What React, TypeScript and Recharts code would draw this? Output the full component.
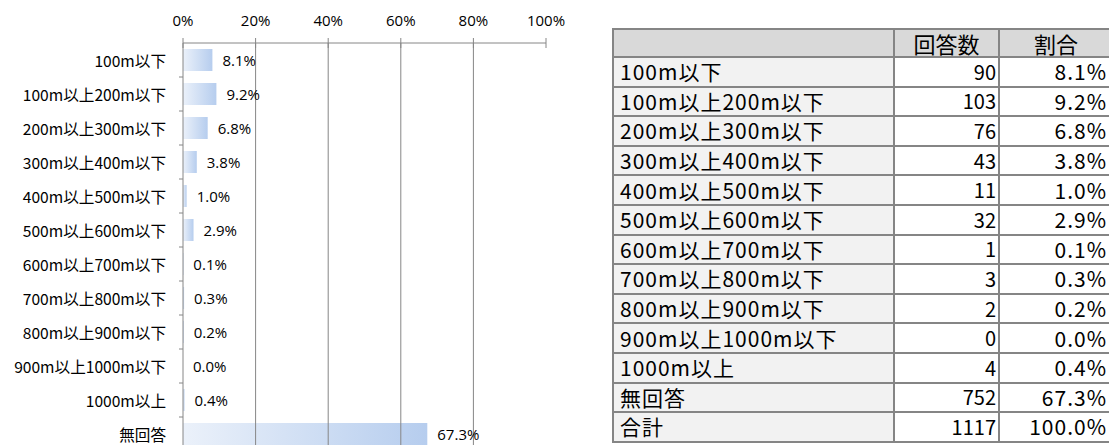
import { BarChart, Bar, XAxis, YAxis, ReferenceLine, LabelList } from 'recharts'

const categories = [
  '100m以下',
  '100m以上200m以下',
  '200m以上300m以下',
  '300m以上400m以下',
  '400m以上500m以下',
  '500m以上600m以下',
  '600m以上700m以下',
  '700m以上800m以下',
  '800m以上900m以下',
  '900m以上1000m以下',
  '1000m以上',
  '無回答',
]
const counts = [90, 103, 76, 43, 11, 32, 1, 3, 2, 0, 4, 752]
const shares = [8.1, 9.2, 6.8, 3.8, 1.0, 2.9, 0.1, 0.3, 0.2, 0.0, 0.4, 67.3]
const totalLabel = '合計'
const totalCount = 1117
const totalShare = 100.0
const tableHeaders = ['', '回答数', '割合']
const xTicks = [0, 20, 40, 60, 80, 100]
const gridValues = [20, 40, 60, 80]

const data = categories.map((name, i) => ({ name, share: shares[i] }))

const AXIS = '#868686'
const ROW = 34
const numFont = '"Open Sans", sans-serif'
const jpFont = '"Noto Sans CJK JP", sans-serif'

function CatTick(props: any) {
  const { x, y, payload } = props
  return (
    <g>
      <text x={x - 9} y={y} textAnchor="end" dominantBaseline="central" fontSize={15.6} fontFamily={jpFont} fill="#000">
        {payload.value}
      </text>
      <line x1={x + 4} x2={x + 8} y1={y + ROW / 2} y2={y + ROW / 2} stroke={AXIS} />
    </g>
  )
}

// top axis tick: label plus a short mark crossing the axis line
function PctTick(props: any) {
  const { x, y, payload } = props
  const axisY = y + 17
  return (
    <g>
      <text x={x} y={y} textAnchor="middle" fontSize={15} fontFamily={numFont} fill="#000">
        {payload.value}%
      </text>
      <line x1={x} x2={x} y1={axisY - 5} y2={axisY + 5} stroke={AXIS} />
    </g>
  )
}

function ShareLabel(props: any) {
  const { x, y, width, height, value } = props
  return (
    <text
      x={Number(x) + Number(width) + 10}
      y={Number(y) + Number(height) / 2}
      dominantBaseline="central"
      fontSize={15}
      fontFamily={numFont}
      fill="#000"
    >
      {Number(value).toFixed(1)}%
    </text>
  )
}

const cell = { border: '2px solid #858585', padding: '0 4px', whiteSpace: 'nowrap' as const }

export default function App() {
  const rows = [
    ...categories.map((c, i) => ({ label: c, count: counts[i], share: shares[i] })),
    { label: totalLabel, count: totalCount, share: totalShare },
  ]
  return (
    <div style={{ position: 'absolute', left: 0, top: 0, width: 1109, height: 445, overflow: 'hidden', background: '#fff' }}>
      <div style={{ position: 'absolute', left: 0, top: 0 }}>
        <BarChart
          width={570}
          height={455}
          data={data}
          layout="vertical"
          margin={{ top: 13, right: 24, left: 0, bottom: 4 }}
        >
          <XAxis
            type="number"
            orientation="top"
            domain={[0, 100]}
            ticks={xTicks}
            height={30}
            tickSize={0}
            tickMargin={17}
            axisLine={{ stroke: AXIS }}
            tickLine={false}
            tick={<PctTick />}
          />
          <YAxis
            type="category"
            dataKey="name"
            width={183}
            interval={0}
            tickLine={false}
            axisLine={{ stroke: AXIS }}
            tick={<CatTick />}
          />
          <defs>
            <linearGradient id="barFill" x1="0" y1="0" x2="1" y2="0">
              <stop offset="0%" stopColor="#ebf1fa" />
              <stop offset="100%" stopColor="#b6cdee" />
            </linearGradient>
          </defs>
          {gridValues.map((v) => (
            <ReferenceLine key={v} x={v} stroke={AXIS} />
          ))}
          <Bar dataKey="share" fill="url(#barFill)" barSize={22} minPointSize={0.01} isAnimationActive={false}>
            <LabelList dataKey="share" content={<ShareLabel />} />
          </Bar>
        </BarChart>
      </div>
      <table
        style={{
          position: 'absolute',
          left: 612,
          top: 28,
          width: 500,
          borderCollapse: 'collapse',
          tableLayout: 'fixed',
          fontFamily: jpFont,
          fontSize: 21,
          lineHeight: 1,
          color: '#000',
        }}
      >
        <colgroup>
          <col style={{ width: 281 }} />
          <col style={{ width: 105 }} />
          <col style={{ width: 114 }} />
        </colgroup>
        <thead>
          <tr style={{ height: 28 }}>
            {tableHeaders.map((h, i) => (
              <th key={i} style={{ ...cell, background: '#d9d9d9', fontWeight: 'normal', textAlign: 'center', fontSize: 22 }}>
                {h}
              </th>
            ))}
          </tr>
        </thead>
        <tbody>
          {rows.map((r) => (
            <tr key={r.label} style={{ height: 29.6 }}>
              <td style={{ ...cell, background: '#f2f2f2', textAlign: 'left', paddingLeft: 6, letterSpacing: 1 }}>{r.label}</td>
              <td style={{ ...cell, textAlign: 'right', paddingRight: 2, fontSize: 20 }}>{r.count}</td>
              <td style={{ ...cell, textAlign: 'right', paddingRight: 5, letterSpacing: 1 }}>{r.share.toFixed(1)}%</td>
            </tr>
          ))}
        </tbody>
      </table>
    </div>
  )
}
